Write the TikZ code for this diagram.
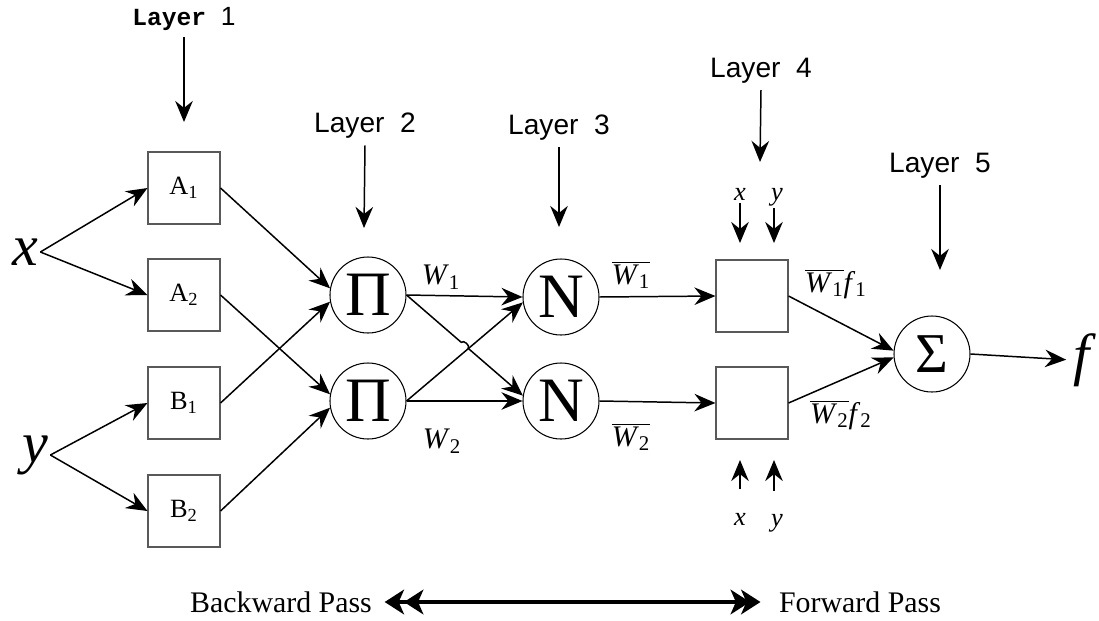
\documentclass[tikz,border=0pt]{standalone}
\usepackage{fontspec}
\setmainfont{Liberation Serif}
\setsansfont{Liberation Sans}
\setmonofont{Liberation Mono}
\usetikzlibrary{arrows.meta,positioning,calc}

\newcommand{\wbar}[1]{\ensuremath{\overline{\mbox{\textit{W}\textsubscript{#1}}}}}

\begin{document}
\begin{tikzpicture}[
  x=0.2mm, y=-0.2mm, >={Stealth[length=12pt,width=10pt,inset=4pt]}, line width=0.85pt,
  mfbox/.style={rectangle, draw=black!65, line width=0.6pt, minimum size=14.4mm, inner sep=0pt, font=\fontsize{15}{16}\selectfont},
  opnode/.style={circle, draw, line width=0.6pt, minimum size=15.2mm, inner sep=0pt},
  layerlab/.style={font=\sffamily\fontsize{16}{18}\selectfont},
  varlab/.style={font=\itshape\fontsize{33}{36}\selectfont, inner sep=1pt},
  wlab/.style={font=\fontsize{17}{19}\selectfont},
  inlab/.style={font=\itshape\fontsize{15}{17}\selectfont, inner sep=1pt},
  passlab/.style={font=\fontsize{17}{19}\selectfont},
  pass/.style={line width=2.5pt, {Stealth[length=11pt,width=14pt,inset=3pt,sep=-5pt]Stealth[length=11pt,width=14pt,inset=3pt]}-{Stealth[length=11pt,width=14pt,inset=3pt,sep=-5pt]Stealth[length=11pt,width=14pt,inset=3pt]}},
]
  \useasboundingbox (0,0) rectangle (1099,621);

  % inputs and layer 1
  \node[varlab] (x) at (25,252) {x};
  \node[varlab] (y) at (35,455) {y};
  \node[mfbox] (A1) at (184,188) {A\textsubscript{1}};
  \node[mfbox] (A2) at (184,295) {A\textsubscript{2}};
  \node[mfbox] (B1) at (184,403) {B\textsubscript{1}};
  \node[mfbox] (B2) at (184,511) {B\textsubscript{2}};

  % layers 2 and 3
  \node[opnode, font=\fontsize{36}{36}\selectfont] (P1) at (368,295) {Π};
  \node[opnode, font=\fontsize{36}{36}\selectfont] (P2) at (368,401) {Π};
  \node[opnode, font=\fontsize{36}{36}\selectfont] (N1) at (561,297) {N};
  \node[opnode, font=\fontsize{36}{36}\selectfont] (N2) at (561,401) {N};

  % layers 4 and 5
  \node[mfbox] (C1) at (752,296) {};
  \node[mfbox] (C2) at (752,403) {};
  \node[opnode, font=\fontsize{32}{32}\selectfont] (S) at (932,354) {Σ};
  \node[varlab] (f) at (1082,360) {f};

  % layer titles
  \node[layerlab] (L1) at (184,19) {{\ttfamily\bfseries\fontsize{14}{16}\selectfont Layer }{\fontsize{15}{17}\selectfont 1}};
  \node[layerlab] (L2) at (365,126) {Layer~~2};
  \node[layerlab] (L3) at (559,128) {Layer~~3};
  \node[layerlab] (L4) at (761,71) {Layer~~4};
  \node[layerlab] (L5) at (940,166) {Layer~~5};
  \coordinate (t1) at (184,122);
  \coordinate (t2) at (364,228);
  \coordinate (t3) at (559,227);
  \coordinate (t4) at (760,162);
  \coordinate (t5) at (940,270);
  \draw[->] (L1.south) -- (t1);
  \draw[->] (L2.south) -- (t2);
  \draw[->] (L3.south) -- (t3);
  \draw[->] (L4.south) -- (t4);
  \draw[->] (L5.south) -- (t5);

  % x, y into layer 4
  \node[inlab] (xt) at (740,194) {x};
  \node[inlab] (yt) at (777,197) {y};
  \node[inlab] (xb) at (740,519) {x};
  \node[inlab] (yb) at (777,523) {y};
  \coordinate (xt') at (740,243);
  \coordinate (yt') at (774,243);
  \coordinate (xb') at (740,460);
  \coordinate (yb') at (774,460);
  \draw[->] (xt.south) -- (xt');
  \draw[->] (yt.south -| yt') -- (yt');
  \draw[->, shorten <=12pt] (xb.north) -- (xb');
  \draw[->, shorten <=12pt] (yb.north -| yb') -- (yb');

  % connections
  \draw[->] (x.east) -- (A1.west);
  \draw[->] (x.east) -- (A2.west);
  \draw[->] (y.east) -- (B1.west);
  \draw[->] (y.east) -- (B2.west);
  \draw[->] (A1.east) -- (P1.170);
  \draw[->] (B1.east) -- (P1.190);
  \draw[->] (A2.east) -- (P2.170);
  \draw[->] (B2.east) -- (P2.190);

  \coordinate (h1) at ($(P1.east)!0.47!(N2.172)$);
  \coordinate (h2) at ($(P1.east)!0.53!(N2.172)$);
  \draw[->] (P1.east) -- (N1.west);
  \draw[->] (P1.east) -- (h1) to[bend left=90] (h2) -- (N2.172);
  \draw[->] (P2.east) -- (N1.188);
  \draw[->] (P2.east) -- (N2.west);

  \draw[->] (N1.east) -- (C1.west);
  \draw[->] (N2.east) -- (C2.west);
  \draw[->] (C1.east) -- (S.175);
  \draw[->] (C2.east) -- (S.185);
  \draw[->, shorten >=3pt] (S.east) -- (f.west);

  % weights
  \node[wlab] (w1) at (441,277) {\textit{W}\textsubscript{1}};
  \node[wlab] (w2) at (442,441) {\textit{W}\textsubscript{2}};
  \node[wlab] (wn1) at (631,275) {\wbar{1}};
  \node[wlab] (wn2) at (631,437) {\wbar{2}};
  \node[wlab] (wf1) at (836,284) {\wbar{1}\textit{f}\textsubscript{1}};
  \node[wlab] (wf2) at (841,415) {\wbar{2}\textit{f}\textsubscript{2}};

  % passes
  \node[passlab] (bp) at (281,602) {Backward Pass};
  \node[passlab] (fp) at (860,602) {Forward Pass};
  \draw[pass, shorten <=3mm, shorten >=2.4mm] (bp.east) -- (fp.west);
\end{tikzpicture}
\end{document}
